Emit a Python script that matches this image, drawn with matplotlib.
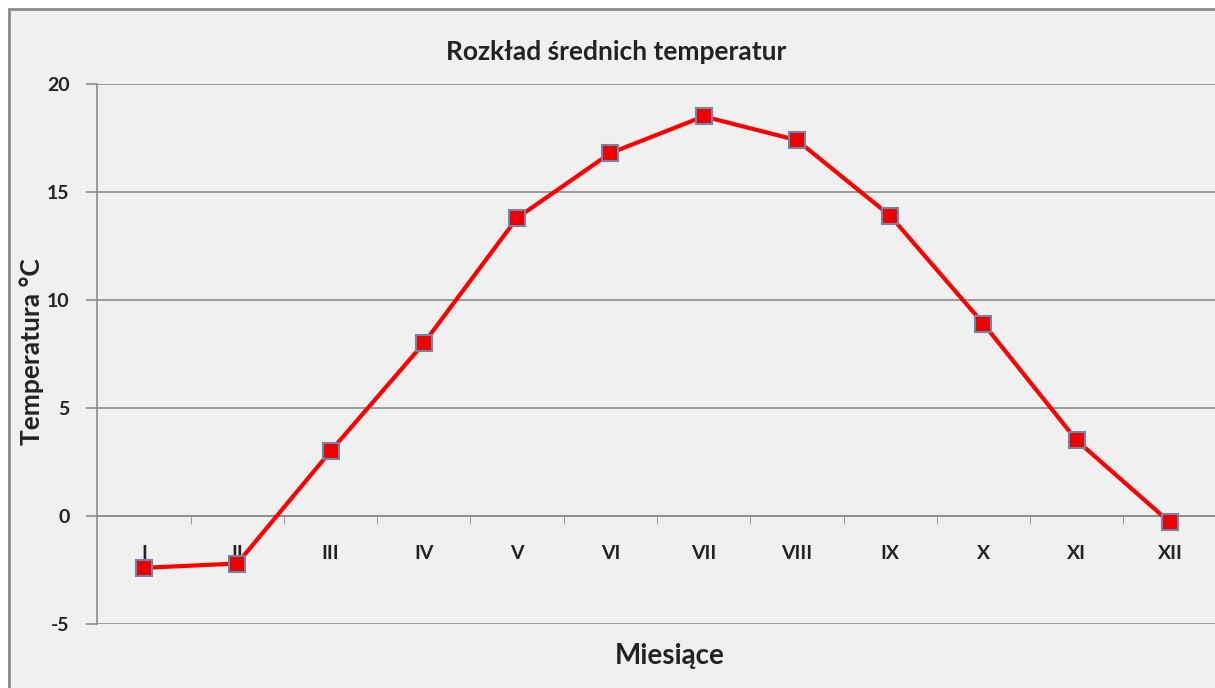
import matplotlib
matplotlib.use("Agg")
import matplotlib.pyplot as plt
from matplotlib.patches import Rectangle

months = ["I", "II", "III", "IV", "V", "VI", "VII", "VIII", "IX", "X", "XI", "XII"]
temps = [-2.4, -2.2, 3.0, 8.0, 13.8, 16.8, 18.5, 17.4, 13.9, 8.9, 3.5, -0.3]
yticks = [-5, 0, 5, 10, 15, 20]

plt.rcParams['font.family'] = ['Lato', 'DejaVu Sans']
bg = '#f0f0f0'
grid_c = '#8c8c8c'

fig = plt.figure(figsize=(12.15, 6.88), dpi=100, facecolor='white')
border = Rectangle((9/1215, -0.05), 1.1, (688-9)/688 + 0.05, transform=fig.transFigure,
                   facecolor=bg, edgecolor='#8a8a8a', linewidth=2, zorder=-10)
fig.patches.append(border)

ax = fig.add_axes([97.4/1215, 64/688, 1119.2/1215, 540/688])
ax.set_facecolor(bg)
x = list(range(len(months)))
ax.plot(x, temps, color='#ff0000', linewidth=3, marker='s', markersize=12,
        markerfacecolor='#ee0000', markeredgecolor='#6f86a8', markeredgewidth=1.5,
        zorder=5, clip_on=False)

ax.set_xlim(-0.5, len(months) - 0.5)
ax.set_ylim(-5, 20)
ax.set_yticks(yticks)
ax.set_yticklabels([str(v) for v in yticks], fontsize=14, fontweight='bold', color='#222222')
ax.yaxis.grid(True, color=grid_c, linewidth=1.2)
ax.set_axisbelow(True)

for s in ['top', 'right']:
    ax.spines[s].set_visible(False)
ax.spines['left'].set_color(grid_c)
ax.spines['left'].set_linewidth(1.2)
ax.spines['bottom'].set_position(('data', 0))
ax.spines['bottom'].set_color(grid_c)
ax.spines['bottom'].set_linewidth(1.2)

ax.set_xticks(x)
ax.set_xticklabels(months, fontsize=14, fontweight='bold', color='#222222')
ax.set_xticks([i + 0.5 for i in x[:-1]], minor=True)
ax.tick_params(axis='x', which='major', length=0, pad=21)
ax.tick_params(axis='x', which='minor', length=6, direction='out', color=grid_c)
ax.tick_params(axis='y', length=8, color=grid_c, width=1.2, pad=12)

fig.text(616/1215, 1 - 52/688, "Rozkład średnich temperatur", ha='center', va='center',
         fontsize=19, fontweight='bold', color='#222222')
fig.text(670/1215, 1 - 656/688, "Miesiące", ha='center', va='center',
         fontsize=20, fontweight='bold', color='#222222')
fig.text(32/1215, 1 - 352/688, "Temperatura °C", ha='center', va='center', rotation=90,
         fontsize=19, fontweight='bold', color='#222222')

fig.savefig("out.png", dpi=100, facecolor='white')
